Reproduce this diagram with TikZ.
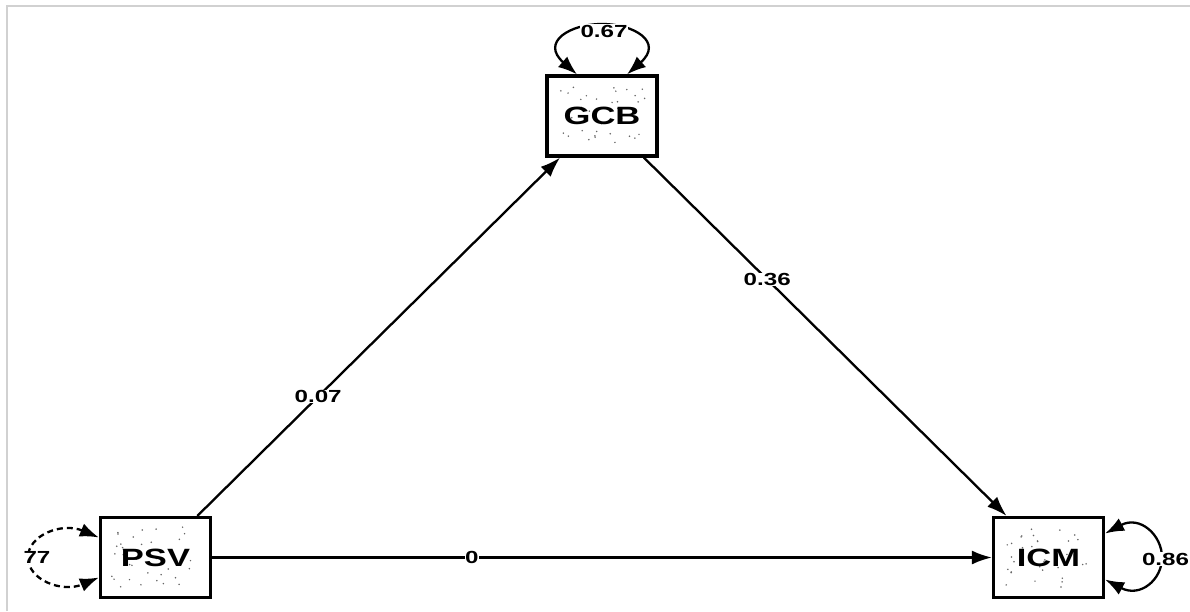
\documentclass[tikz,border=0pt]{standalone}
\usepackage{fontspec}
\setmainfont{Liberation Sans}
\newfontfamily\widefont[FakeStretch=1.38]{Liberation Sans}
\usetikzlibrary{arrows.meta,calc}
\begin{document}
\pgfmathsetseed{7}
\begin{tikzpicture}[x=1pt,y=-1pt,
  speck/.style={path picture={
    \foreach \k in {1,...,34}{
      \pgfmathsetmacro\rx{0.1+0.8*rnd}
      \pgfmathsetmacro\ry{0.12+0.76*rnd}
      \fill[black!60] let \p1=(path picture bounding box.south west), \p2=(path picture bounding box.north east) in ({\x1+\rx*(\x2-\x1)},{\y1+\ry*(\y2-\y1)}) circle[radius=0.85pt];
    }}},
  varbox/.style={draw, line width=3.2pt, fill=white, minimum width=110pt, minimum height=80pt, inner sep=0pt, font=\widefont\bfseries\fontsize{25}{27}\selectfont, speck},
  conn/.style={line width=2.3pt, -{Latex[length=20pt,width=14pt]}},
  loopc/.style={line width=2.3pt, {Latex[length=19pt,width=14pt]}-{Latex[length=19pt,width=14pt]}},
  lbl/.style={fill=white, inner sep=0.5pt, font=\widefont\bfseries\fontsize{17.5}{19}\selectfont},
  frameline/.style={draw=black!18, line width=2pt}
]
\useasboundingbox (0,0) rectangle (1190,611);
% frame
\coordinate (ftl) at (6.5,5.5);
\coordinate (ftr) at (1190,5.5);
\coordinate (fbl) at (6.5,611);
\draw[frameline] (fbl) -- (ftl) -- (ftr);

% variables
\node[varbox] (gcb) at (602,116) {GCB};
\node[varbox] (psv) at (155.5,557.5) {PSV};
\node[varbox] (icm) at (1048.5,557.5) {ICM};

% paths
\draw[conn] (psv) -- node[lbl, pos=0.333] {0.07} (gcb);
\draw[conn] (gcb) -- node[lbl, pos=0.34] {0.36} (icm);
\draw[conn] (psv) -- node[lbl, pos=0.333] {0} (icm);

% variances
\draw[loopc] ([xshift=-25pt]gcb.north) .. controls (540,42) and (570,24) .. (602,24)
  .. controls (634,24) and (664,42) .. ([xshift=25pt]gcb.north);
\node[lbl] (vgcb) at (604,31) {0.67};

\draw[loopc, dash pattern=on 6pt off 4pt] ([yshift=20pt]psv.west) .. controls (62,522) and (28,535) .. (28,557.5)
  .. controls (28,580) and (62,593) .. ([yshift=-20pt]psv.west);
\node[lbl] (vpsv) at (37,557.5) {77};

\draw[loopc] ([yshift=24pt]icm.east) .. controls (1140,515) and (1162,535) .. (1162,557.5)
  .. controls (1162,580) and (1140,598) .. ([yshift=-22pt]icm.east);
\node[lbl] (vicm) at (1165.5,559) {0.86};
\end{tikzpicture}
\end{document}
